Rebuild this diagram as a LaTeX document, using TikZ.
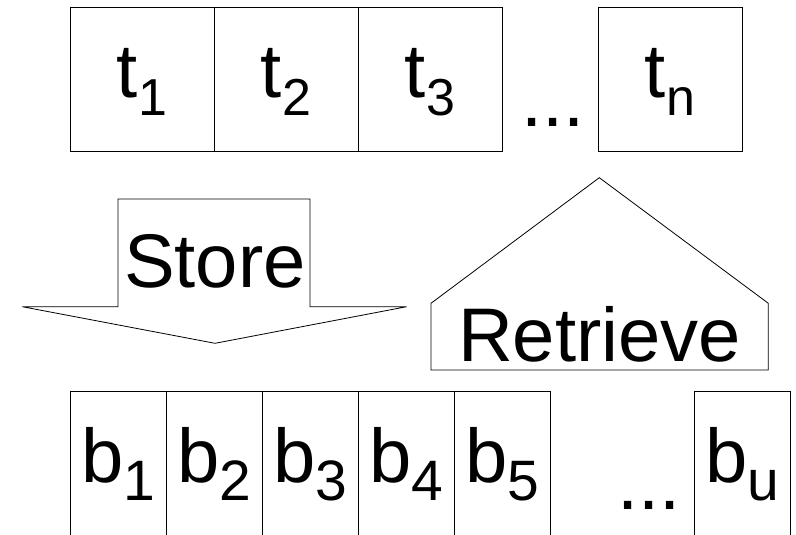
\documentclass[tikz,border=0pt]{standalone}
\usepackage{fontspec}
\setmainfont{Liberation Sans}
\newcommand{\bigtxt}{\fontsize{76}{90}\selectfont}
\newcommand{\tsub}[1]{\raisebox{-17.7pt}{\fontsize{52}{60}\selectfont #1}}
\newcommand{\bsub}[1]{\raisebox{-18.3pt}{\fontsize{57}{64}\selectfont #1}}
\begin{document}
\begin{tikzpicture}[x=1pt,y=-1pt,
  tbox/.style={draw, line width=0.8pt, minimum width=144pt, minimum height=144pt, inner sep=0pt},
  bbox/.style={draw, line width=0.8pt, minimum width=96pt, minimum height=144pt, inner sep=0pt},
  txtlabel/.style={anchor=base, inner sep=0pt, font=\bigtxt},
  outline/.style={draw, line width=0.8pt, line join=miter}]
\useasboundingbox (0,0) rectangle (796,535);
% top row
\node[tbox] (t1) at (142,79) {};
\node[tbox] (t2) at (286,79) {};
\node[tbox] (t3) at (430,79) {};
\node[tbox] (tn) at (670,79) {};
\node[txtlabel] at (t1.center |- 0,98) {t\tsub{1}};
\node[txtlabel] at (t2.center |- 0,98) {t\tsub{2}};
\node[txtlabel] at (t3.center |- 0,98) {t\tsub{3}};
\node[txtlabel] at (tn.center |- 0,98) {t\tsub{n}};
\node[txtlabel] (tdots) at (553,126) {...};
% Store arrow
\coordinate (s1) at (118,306.7);
\coordinate (s2) at (118,199);
\coordinate (s3) at (310,199);
\coordinate (s4) at (310,306.7);
\coordinate (s5) at (406.7,306.7);
\coordinate (s6) at (215,343.3);
\coordinate (s7) at (22.3,306.7);
\draw[outline] (s1) -- (s2) -- (s3) -- (s4) -- (s5) -- (s6) -- (s7) -- cycle;
\node[txtlabel] (store) at (215,287) {Store};
% Retrieve shape
\coordinate (r1) at (431,370);
\coordinate (r2) at (431,303.3);
\coordinate (r3) at (599.3,177.7);
\coordinate (r4) at (768.3,303.3);
\coordinate (r5) at (768.3,370);
\draw[outline] (r1) -- (r2) -- (r3) -- (r4) -- (r5) -- cycle;
\node[txtlabel] (retrieve) at (599.5,361) {Retrieve};
% bottom row
\node[bbox] (b1) at (118,463) {};
\node[bbox] (b2) at (214,463) {};
\node[bbox] (b3) at (310,463) {};
\node[bbox] (b4) at (406,463) {};
\node[bbox] (b5) at (502,463) {};
\node[bbox] (bu) at (742.5,463) {};
\node[txtlabel] at (b1.center |- 0,482) {b\bsub{1}};
\node[txtlabel] at (b2.center |- 0,482) {b\bsub{2}};
\node[txtlabel] at (b3.center |- 0,482) {b\bsub{3}};
\node[txtlabel] at (b4.center |- 0,482) {b\bsub{4}};
\node[txtlabel] at (b5.center |- 0,482) {b\bsub{5}};
\node[txtlabel] at (bu.center |- 0,482) {b\bsub{u}};
\node[txtlabel] (bdots) at (649,509) {...};
\end{tikzpicture}
\end{document}
